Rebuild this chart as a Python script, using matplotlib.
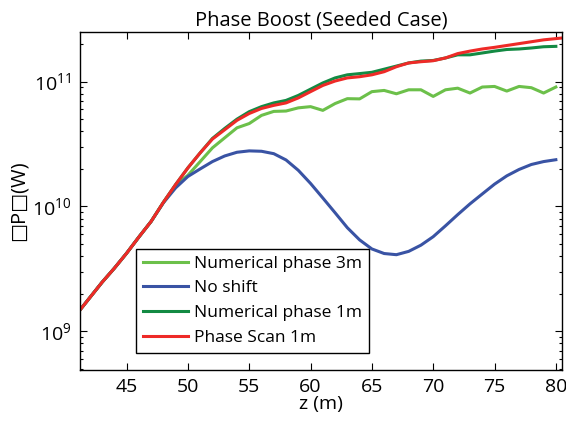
import matplotlib
matplotlib.use("Agg")
import matplotlib.pyplot as plt
from matplotlib.ticker import LogLocator, NullFormatter

# data ------------------------------------------------------------------------
z = list(range(41, 82))

# power in GW
phase_scan_1m = [
    1.40, 1.86, 2.47, 3.20, 4.22, 5.69, 7.59, 10.8, 15.0, 20.4,
    26.9, 34.7, 41.2, 49.0, 55.6, 61.0, 64.6, 67.6, 74.1, 83.2,
    93.3, 101.2, 107.2, 109.6, 113.5, 120.2, 131.8, 141.3, 144.5, 147.2,
    154.9, 167.9, 175.8, 182.8, 188.4, 195.0, 201.8, 208.9, 216.3, 221.3,
    226.5,
]
numerical_1m = [
    1.40, 1.86, 2.47, 3.20, 4.22, 5.69, 7.59, 10.8, 15.0, 20.4,
    26.9, 35.1, 42.2, 50.1, 57.5, 63.1, 67.6, 70.8, 77.6, 87.1,
    97.7, 107.2, 113.5, 116.1, 118.9, 125.9, 133.4, 141.3, 146.2, 147.9,
    154.9, 164.1, 164.1, 169.8, 175.8, 181.1, 182.8, 186.2, 190.5, 191.9,
]
numerical_3m = [
    1.40, 1.86, 2.47, 3.20, 4.22, 5.69, 7.59, 10.8, 14.8, 17.8,
    22.9, 29.5, 35.5, 42.7, 46.2, 53.7, 57.8, 58.2, 61.7, 63.1,
    58.9, 66.8, 73.1, 72.8, 83.2, 85.1, 80.0, 86.1, 86.1, 76.2,
    86.1, 88.7, 81.1, 90.6, 91.6, 84.1, 91.6, 89.5, 81.1, 90.6,
]
no_shift = [
    1.40, 1.86, 2.47, 3.20, 4.22, 5.69, 7.59, 10.7, 14.1, 17.4,
    20.0, 22.9, 25.4, 27.2, 27.9, 27.7, 26.5, 23.6, 19.5, 15.3,
    11.7, 8.91, 6.76, 5.40, 4.57, 4.20, 4.11, 4.37, 4.90, 5.73,
    7.00, 8.61, 10.5, 12.6, 15.1, 17.6, 19.8, 21.7, 22.9, 23.7,
]

labels = ["Numerical phase 3m", "No shift", "Numerical phase 1m", "Phase Scan 1m"]
colors = ["#6cc04a", "#3953a4", "#138a43", "#ee2a27"]
yticks = [1e9, 1e10, 1e11]
yticklabels = ["$10^{9}$", "$10^{10}$", "$10^{11}$"]
xticks = [45, 50, 55, 60, 65, 70, 75, 80]

# plot ------------------------------------------------------------------------
plt.rcParams["font.family"] = ["Open Sans", "DejaVu Sans"]
plt.rcParams["mathtext.fontset"] = "custom"
plt.rcParams["mathtext.rm"] = "Open Sans"
plt.rcParams["font.size"] = 12

fig = plt.figure(figsize=(5.66, 4.24), dpi=100)
ax = fig.add_axes([0.1413, 0.1274, 0.8516, 0.7971])

series = [numerical_3m, no_shift, numerical_1m, phase_scan_1m]
for vals, lab, col in zip(series, labels, colors):
    ax.plot(z[:len(vals)], [v * 1e9 for v in vals], color=col, lw=2.2, label=lab)

ax.set_yscale("log")
ax.set_xlim(41.2, 80.5)
ax.set_ylim(4.9e8, 2.5e11)
ax.set_xticks(xticks)
ax.set_yticks(yticks)
ax.set_yticklabels(yticklabels)
ax.yaxis.set_minor_locator(LogLocator(base=10, subs=range(2, 10)))
ax.yaxis.set_minor_formatter(NullFormatter())
ax.tick_params(which="both", direction="in", top=True, right=True, width=0.8)
ax.tick_params(which="major", length=5, labelsize=14, pad=6)
ax.tick_params(which="minor", length=2.5)
for sp in ax.spines.values():
    sp.set_linewidth(1.0)

ax.set_title("Phase Boost (Seeded Case)", fontsize=14.5, pad=5)
ax.set_xlabel("z (m)", fontsize=14, labelpad=-1)
ax.set_ylabel("\u25a1P\u25a1(W)", fontsize=14.5, labelpad=3)

leg = ax.legend(loc="lower left", bbox_to_anchor=(0.116, 0.05), borderaxespad=0,
                fancybox=False, framealpha=1, edgecolor="black", fontsize=12.5,
                handlelength=2.6, handletextpad=0.35, labelspacing=0.5,
                borderpad=0.4)
leg.get_frame().set_linewidth(1.0)

fig.savefig("out.png", dpi=100)
